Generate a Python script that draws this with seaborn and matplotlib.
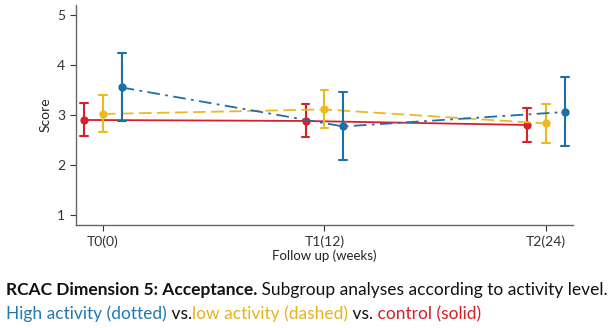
import numpy as np
import pandas as pd
import matplotlib
matplotlib.use("Agg")
import matplotlib.pyplot as plt
import seaborn as sns

# data (mean and error bar ends)
timepoints = ["T0(0)", "T1(12)", "T2(24)"]
groups = ["control", "low", "high"]

control_mean = [2.90, 2.88, 2.80]
control_lo = [2.57, 2.56, 2.45]
control_hi = [3.23, 3.22, 3.14]

low_mean = [3.02, 3.11, 2.83]
low_lo = [2.66, 2.73, 2.43]
low_hi = [3.39, 3.49, 3.22]

high_mean = [3.55, 2.77, 3.06]
high_lo = [2.87, 2.09, 2.37]
high_hi = [4.24, 3.45, 3.76]

colors = {"control": "#d7202e", "low": "#ebb920", "high": "#1e6fa8"}

# long table: three rows per point (lo, mean, hi); median = mean, full range = bar
rows = []
series = {
    "control": (control_mean, control_lo, control_hi),
    "low": (low_mean, low_lo, low_hi),
    "high": (high_mean, high_lo, high_hi),
}
for g, (m, lo, hi) in series.items():
    for i, t in enumerate(timepoints):
        for v in (lo[i], m[i], hi[i]):
            rows.append({"time": t, "group": g, "score": v})
df = pd.DataFrame(rows)

sns.set_style("ticks")
plt.rcParams["font.family"] = ["Lato", "DejaVu Sans"]

fig = plt.figure(figsize=(6.11, 3.28), dpi=100)
ax = fig.add_axes([0.124, 0.314, 0.814, 0.671])

sns.pointplot(
    data=df, x="time", y="score", hue="group", order=timepoints,
    hue_order=groups, palette=colors, estimator="median",
    errorbar=("pi", 100), dodge=0.17, capsize=0.035,
    linestyles=["-", (0, (7, 3)), (0, (7, 3, 1.5, 3))],
    markers="o", markersize=5, linewidth=1.3,
    err_kws={"linewidth": 1.5}, legend=False, ax=ax,
)

ax.set_xlim(-0.122, 2.122)
ax.set_ylim(0.8, 5.2)
ax.set_yticks([1, 2, 3, 4, 5])
ax.set_xlabel("Follow up (weeks)", fontsize=9.5, color="#222222", labelpad=1)
ax.set_ylabel("Score", fontsize=10, color="#222222")
ax.tick_params(labelsize=10, colors="#333333", length=4, width=0.8)
for s in ["top", "right"]:
    ax.spines[s].set_visible(False)
for s in ["left", "bottom"]:
    ax.spines[s].set_color("#666666")
    ax.spines[s].set_linewidth(1.0)

# caption, built piece by piece so colours and weights can change mid-line
renderer = fig.canvas.get_renderer()


def caption_line(pieces, x0, y):
    x = x0
    for txt, col, wt in pieces:
        t = fig.text(x, y, txt, color=col, fontweight=wt, fontsize=12.5,
                     va="center", ha="left", transform=None)
        bb = t.get_window_extent(renderer)
        x = bb.x1


h = fig.bbox.height
caption_line([
    ("RCAC Dimension 5: Acceptance.", "#111111", "bold"),
    (" Subgroup analyses according to activity level.", "#111111", "normal"),
], 6, h - 290)
caption_line([
    ("High activity (dotted)", "#1f7ab0", "normal"),
    (" vs.", "#111111", "normal"),
    ("low activity (dashed)", "#e3b321", "normal"),
    (" vs.", "#111111", "normal"),
    (" control (solid)", "#d21f2b", "normal"),
], 6, h - 314)

fig.savefig("out.png", dpi=100)
